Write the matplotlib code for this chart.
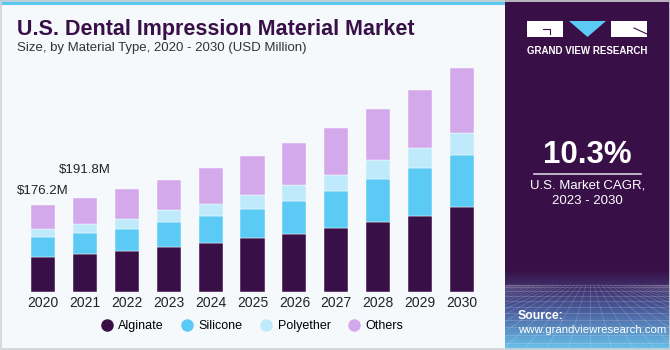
import numpy as np
import matplotlib.pyplot as plt
from matplotlib.patches import Rectangle, Polygon

years = ['2020', '2021', '2022', '2023', '2024', '2025', '2026', '2027', '2028', '2029', '2030']
alginate = [70.3, 77.8, 82.6, 92.0, 99.5, 109.0, 117.7, 129.3, 142.0, 154.9, 171.9]
silicone = [40.5, 42.0, 45.3, 50.8, 54.8, 59.5, 67.6, 75.7, 87.9, 96.8, 106.2]
polyether = [16.2, 18.3, 19.7, 23.7, 24.4, 28.4, 31.9, 32.5, 37.1, 40.6, 44.7]
others = [49.2, 53.7, 60.9, 61.5, 73.0, 78.6, 85.3, 95.4, 103.5, 117.7, 131.3]
labels = {0: '$176.2M', 1: '$191.8M'}
label_gap = {0: 29, 1: 55}  # space above bar top, in USD million
series = ['Alginate', 'Silicone', 'Polyether', 'Others']
colors = ['#381047', '#5bcbf5', '#bfeafb', '#d4a9eb']

plt.rcParams['font.family'] = ['Liberation Sans', 'DejaVu Sans']
W, H = 670, 350
fig = plt.figure(figsize=(W / 100, H / 100), dpi=100)
fig.patch.set_facecolor('#f5f9fc')

# background / decoration layer in pixel coords
bg = fig.add_axes([0, 0, 1, 1], zorder=0)
bg.axis('off')
bg.add_patch(Rectangle((0, 0), 505, 5, color='#5cc8f0', lw=0))
bg.add_patch(Rectangle((505, 0), 165, 350, color='#381047', lw=0))

# gradient at panel bottom
img = np.zeros((100, 1, 3))
c0 = np.array([0x38, 0x10, 0x47]) / 255
c1 = np.array([0x4a, 0x5c, 0x9c]) / 255
c2 = np.array([0x6a, 0xc4, 0xec]) / 255
for i, g in enumerate(np.linspace(0, 1, 100)):
    if g < 0.5:
        img[i, 0] = c0 + (c1 - c0) * (g / 0.5)
    else:
        img[i, 0] = c1 + (c2 - c1) * ((g - 0.5) / 0.5)
bg.imshow(img, extent=(505, 670, 350, 270), aspect='auto', zorder=1)
# perspective grid
for k in range(12):
    yy = 285 + (k ** 1.4) * 2.3
    bg.plot([505, 670], [yy, yy], color='white', alpha=0.18, lw=0.6, zorder=2)
for k in range(-20, 30):
    bg.plot([590 + k * 4, 590 + k * 22], [285, 350], color='white', alpha=0.18, lw=0.6, zorder=2)
bg.set_xlim(0, W)
bg.set_ylim(H, 0)

# border
bg.add_patch(Rectangle((0.5, 0.5), W - 1, H - 1.5, fill=False, ec='#cfd3d6', lw=1.2, zorder=5))

# logo
bg.add_patch(Rectangle((527, 21), 36, 16, color='white', lw=0, zorder=3))
bg.plot([543, 550, 550], [29, 29, 34], color='#381047', lw=0.8, zorder=4)
bg.add_patch(Polygon([[569, 21], [606, 21], [587.5, 37]], color='#5bcbf5', lw=0, zorder=3))
bg.add_patch(Rectangle((611, 21), 36, 16, color='white', lw=0, zorder=3))
bg.plot([634, 647], [28, 34], color='#381047', lw=0.8, zorder=4)
bg.text(587, 51.5, 'GRAND VIEW RESEARCH', color='white', fontsize=7, fontweight='bold',
        ha='center', va='center', zorder=4)

bg.text(587.5, 155, '10.3%', color='white', fontsize=22.5, fontweight='bold',
        ha='center', va='center', zorder=4)
bg.plot([534, 641], [173.5, 173.5], color='#d8d0e0', lw=1.2, zorder=4)
bg.text(587.5, 186, 'U.S. Market CAGR,', color='white', fontsize=9.5,
        ha='center', va='center', zorder=4)
bg.text(587.5, 201, '2023 - 2030', color='white', fontsize=9.5,
        ha='center', va='center', zorder=4)
bg.text(518, 316, 'Source:', color='white', fontsize=8.8, fontweight='bold',
        ha='left', va='center', zorder=4)
bg.text(518, 330, 'www.grandviewresearch.com', color='white', fontsize=8.2,
        ha='left', va='center', zorder=4)

# titles
bg.text(17, 29, 'U.S. Dental Impression Material Market', color='#381047', fontsize=15.5,
        fontweight='bold', ha='left', va='center', zorder=4)
bg.text(17, 48.5, 'Size, by Material Type, 2020 - 2030 (USD Million)', color='#333333',
        fontsize=9.5, ha='left', va='center', zorder=4)

# chart axes
base_px, top_px = 292, 60
scale = 2.03
ax = fig.add_axes([0, 1 - base_px / H, 505 / W, (base_px - top_px) / H], zorder=2)
ax.patch.set_alpha(0)
sp = 41.9
ax.set_xlim(-43 / sp, (505 - 43) / sp)
ax.set_ylim(0, (base_px - top_px) * scale)

x = np.arange(len(years))
bottom = np.zeros(len(years))
for name, vals, c in zip(series, [alginate, silicone, polyether, others], colors):
    ax.bar(x, vals, 24 / sp, bottom=bottom, color=c, label=name, edgecolor='white', linewidth=0.3)
    bottom += np.array(vals)

for i, t in labels.items():
    ax.text(i, bottom[i] + label_gap[i], t, ha='center', va='center', fontsize=9.5, color='#222222')

ax.set_xticks(x)
ax.set_xticklabels(years, fontsize=10, color='#222222')
ax.tick_params(axis='x', length=0, pad=3)
ax.set_yticks([])
for s in ax.spines.values():
    s.set_visible(False)

handles = [plt.Line2D([], [], marker='o', ls='', color=c, markersize=8) for c in colors]
ax.legend(handles, series, loc='center', bbox_to_anchor=(252 / 505, -(326 - base_px) / (base_px - top_px)),
          ncol=4, frameon=False, fontsize=9, handletextpad=0.4, columnspacing=1.4, handlelength=1.0)

fig.savefig('out.png', dpi=100, facecolor=fig.get_facecolor())
